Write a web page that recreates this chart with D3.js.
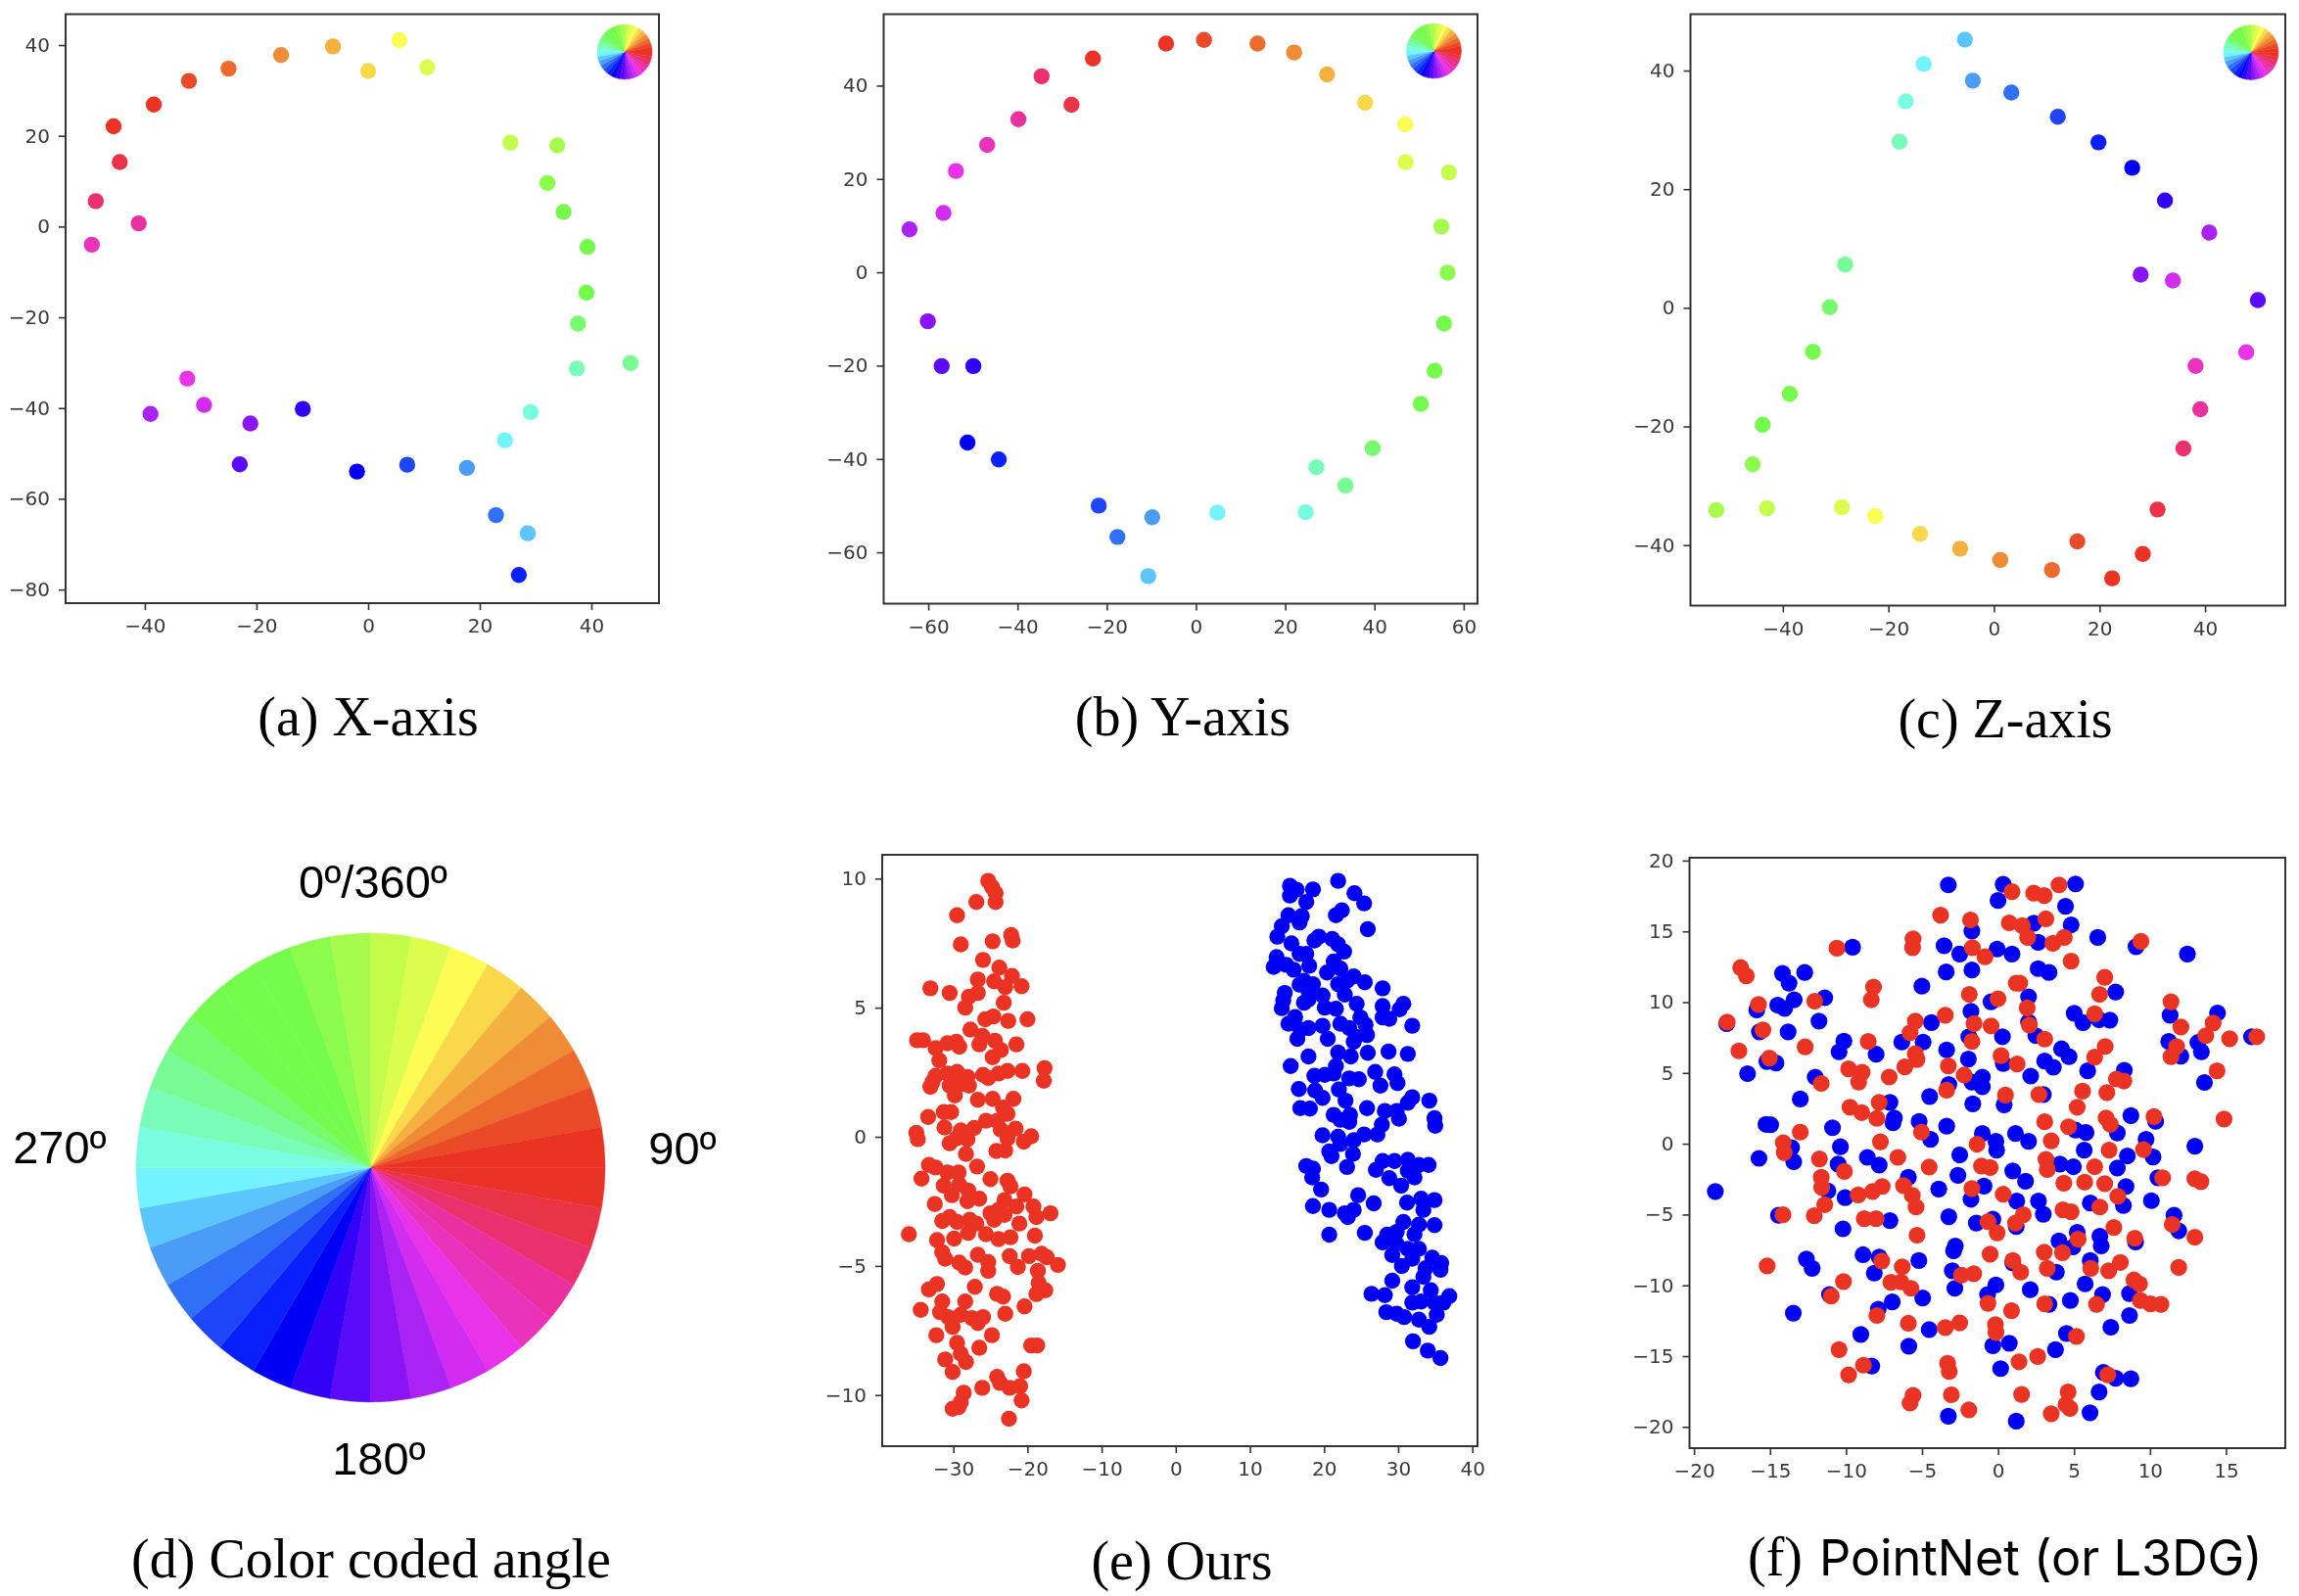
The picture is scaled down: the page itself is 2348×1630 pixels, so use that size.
<!DOCTYPE html>
<html>
<head>
<meta charset="utf-8">
<script src="https://cdn.jsdelivr.net/npm/d3@7"></script>
<style>
html,body{margin:0;padding:0;background:#fff;}
svg{display:block;}
.panel{filter:blur(0.7px);}
</style>
</head>
<body>
<div id="chart"></div>
<script>
// wheel colours, one per 10 degree slice, clockwise from the top
const wheelColors = ["#c4fc4c","#dcfd4e","#fdfc52","#f9d84a","#f4b13f","#f08c35","#eb6a2c","#ea4a28","#ea3323",
  "#ea3326","#ea3347","#ea306e","#ea30a0","#ea33bd","#ea33e8","#d12cf0","#ab22f5","#8b14f5",
  "#5a0cf8","#3300f8","#0000f5","#0a20fa","#1f45f8","#3070f6","#4a9cf7","#5ac6fb","#73f3fd",
  "#78fde0","#78fcb8","#78fb94","#77fb6e","#75fb4e","#75fb4c","#75fb4c","#8bfb4c","#a5fc4d"];

// point lists of a,b,c are in the same order as wheelColors
const xAxisPoints = [[25.5,18.5],[10.6,35.1],[5.6,41.1],[0,34.3],[-6.3,39.7],[-15.6,37.8],[-25,34.8],[-32.1,32.1],[-38.4,26.9],
  [-45.6,22.1],[-44.5,14.2],[-48.8,5.6],[-41.1,0.7],[-49.5,-4],[-32.4,-33.5],[-29.4,-39.3],[-39,-41.3],[-21.1,-43.4],
  [-23,-52.4],[-11.7,-40.2],[-2,-54],[27,-76.8],[7,-52.5],[22.9,-63.6],[17.7,-53.2],[28.6,-67.6],[24.5,-47.1],
  [29.1,-40.9],[37.4,-31.3],[47,-30.1],[37.6,-21.4],[39.1,-14.6],[39.3,-4.5],[35,3.2],[32.1,9.6],[33.9,17.9]];
const yAxisPoints = [[56.7,21.4],[47,23.6],[46.9,31.7],[37.9,36.3],[29.4,42.4],[22,47.1],[13.8,49],[1.8,49.8],[-6.7,49],
  [-23.1,45.8],[-27.9,35.9],[-34.6,42],[-39.8,32.8],[-46.8,27.3],[-53.8,21.7],[-56.6,12.7],[-64.2,9.2],[-60.1,-10.5],
  [-57,-20.1],[-49.9,-20.1],[-51.2,-36.5],[-44.2,-40.1],[-21.8,-50],[-17.6,-56.7],[-9.8,-52.5],[-10.7,-65.1],[4.8,-51.5],
  [24.6,-51.4],[27,-41.8],[33.5,-45.7],[39.6,-37.7],[50.4,-28.2],[53.5,-21.1],[55.6,-11],[56.4,-0.1],[55,9.8]];
const zAxisPoints = [[-43,-33.8],[-28.8,-33.6],[-22.5,-35.1],[-14,-38.1],[-6.4,-40.6],[1.2,-42.5],[11,-44.2],[15.8,-39.4],[22.4,-45.6],
  [28.2,-41.5],[31,-34],[35.9,-23.7],[39.1,-17.1],[38.2,-9.8],[47.8,-7.5],[33.9,4.6],[40.8,12.7],[27.8,5.6],
  [50,1.3],[32.4,18.1],[26.2,23.6],[19.8,27.9],[12.1,32.2],[3.3,36.3],[-4,38.3],[-5.5,45.2],[-13.3,41.1],
  [-16.7,34.8],[-17.9,28],[-28.2,7.3],[-31.1,0.1],[-34.3,-7.4],[-38.7,-14.5],[-43.8,-19.7],[-45.7,-26.4],[-52.6,-34.1]];

const oursRed = [[-25.3,9.91],[-24.8,9.68],[-24.3,9.43],[-24.3,9.09],[-26.9,9.09],[-29.5,8.58],[-29,7.45],[-24.7,7.57],[-22.2,7.81],[-22,7.6],
  [-26,6.85],[-23.8,6.55],[-22.1,6.23],[-26.7,6.09],[-24.5,6.02],[-23,5.79],[-20.8,5.83],[-33.1,5.75],[-30.5,5.57],[-27.9,5.42],
  [-26.7,5.57],[-23.2,5.19],[-28.4,5],[-25.7,4.55],[-24.6,4.66],[-22.6,4.49],[-20,4.55],[-27.7,4.15],[-26.1,3.91],[-24.4,3.72],
  [-21.5,3.58],[-34.9,3.74],[-34.1,3.74],[-32.4,3.43],[-30.8,3.62],[-29.6,3.68],[-29.2,3.49],[-26.5,3.58],[-23.6,3.36],[-24.7,3.08],
  [-31.9,2.96],[-17.7,2.66],[-17.8,2.17],[-22.7,2.55],[-20.7,2.55],[-32.4,2.36],[-32.8,2.13],[-33.1,1.94],[-30.8,2.45],[-29.5,2.51],
  [-28.1,2.32],[-26,2.4],[-25.3,2.28],[-30.5,1.98],[-29.2,2.02],[-27.9,1.98],[-29.8,1.6],[-23.9,2.45],[-26.7,1.43],[-24.7,1.47],
  [-21.9,1.47],[-33.4,0.77],[-31.3,0.96],[-30.3,0.96],[-23.3,1.13],[-22.7,0.89],[-25.6,0.62],[-24.1,0.62],[-35,0.15],[-34.8,-0.09],
  [-31.2,0.36],[-29,0.25],[-27.2,0.34],[-23.6,0.28],[-21.6,0.32],[-19.5,0.02],[-20.5,-0.19],[-30.5,-0.25],[-29.6,-0.06],[-28.1,-0.09],
  [-22.7,-0.06],[-24.2,-0.55],[-23,-0.53],[-28.3,-0.66],[-33.3,-1.09],[-32.4,-1.19],[-34.3,-1.62],[-26.8,-1.15],[-25,-1.64],[-30.8,-1.38],
  [-29.3,-1.38],[-22.7,-1.7],[-22.3,-1.92],[-31.3,-1.89],[-30.2,-2.26],[-29.2,-1.85],[-28,-2.08],[-26.5,-2.4],[-28.1,-2.49],[-20.4,-2.23],
  [-23.1,-2.45],[-32.5,-2.6],[-21.5,-2.7],[-19.2,-2.7],[-16.9,-2.96],[-23.9,-2.83],[-25,-2.96],[-24.5,-3.21],[-23.1,-3.02],[-18.8,-3.11],
  [-21.1,-3.36],[-31.5,-3.26],[-30.5,-3.11],[-29.5,-3.3],[-27.8,-3.21],[-26.9,-3.36],[-28,-3.72],[-25.6,-3.77],[-23.9,-3.96],[-22.3,-3.89],
  [-19,-3.83],[-36,-3.77],[-32.2,-4],[-29.9,-3.94],[-31.5,-4.47],[-31.1,-4.72],[-26.7,-4.57],[-22.4,-4.62],[-19.8,-4.62],[-18.1,-4.53],
  [-17.4,-4.66],[-15.9,-4.96],[-25.3,-4.85],[-25.3,-5.19],[-29.2,-4.87],[-28.4,-5.06],[-21.3,-5.04],[-18.6,-5.19],[-18.5,-5.66],[-17.6,-5.94],
  [-18.8,-6.09],[-27.1,-5.81],[-32.2,-5.7],[-33.3,-5.91],[-24.1,-6.08],[-23.3,-6.19],[-31.5,-6.38],[-28.4,-6.38],[-20.4,-6.57],[-34.4,-6.7],
  [-23,-6.85],[-31.8,-6.79],[-30.7,-6.98],[-29,-6.89],[-27.5,-7.02],[-26,-6.98],[-26.7,-7.21],[-30.1,-7.36],[-32.3,-7.68],[-24.8,-7.68],
  [-29.5,-7.98],[-26.5,-8.17],[-19.5,-8.08],[-18.7,-8.08],[-29,-8.4],[-28.3,-8.72],[-31.1,-8.62],[-30.1,-9.11],[-20.5,-9.08],[-24.1,-9.3],
  [-23.7,-9.53],[-22.4,-9.72],[-21,-9.66],[-26.1,-9.72],[-28.6,-9.91],[-20.8,-10.21],[-29,-10.28],[-29.3,-10.47],[-30.1,-10.53],[-22.5,-10.92]];
const oursBlue = [[21.9,9.91],[15.4,9.72],[16.3,9.57],[15.4,9.34],[24.1,9.43],[18.5,9.58],[25.4,9.04],[17.6,9.09],[22.4,8.77],[21.6,8.58],
  [15.2,8.58],[17,8.55],[16.7,8.3],[14.3,8.15],[25.9,8.04],[13.7,7.75],[15.6,7.49],[19.3,7.75],[18.7,7.6],[21.1,7.66],
  [21.9,7.45],[22.7,7.17],[13.6,6.96],[13.2,6.58],[14.9,6.66],[15.9,6.47],[16.7,7.08],[17.6,7.08],[18,6.62],[21.3,6.79],
  [22.2,6.51],[20.4,6.36],[24,6.21],[25.5,5.98],[23.1,6.04],[21.9,5.91],[18.5,5.91],[17.3,6.04],[16.7,5.89],[17.9,5.66],
  [14.7,5.57],[14.5,5.28],[14.3,4.98],[17.3,5.19],[19.8,5.47],[17.9,5.32],[22.8,5.51],[27.9,5.75],[24.4,5.15],[20.1,5],
  [21.6,4.96],[27.9,5.06],[30.7,5.15],[30.2,4.94],[16.1,4.64],[15.2,4.38],[16.8,4.15],[17.9,4.21],[19.8,4.3],[22.2,4.38],
  [24.9,4.62],[25.6,4.34],[23.4,4.21],[27.9,4.62],[28.8,4.57],[31.9,4.3],[25.8,3.94],[24.3,3.87],[24,3.68],[16.4,3.79],
  [20.5,3.79],[21.9,3.26],[17.9,3.11],[23.6,3.11],[25.9,3.25],[28.7,3.3],[31.3,3.21],[15.5,2.74],[21.6,2.74],[21.3,2.45],
  [20.1,2.4],[18.7,2.36],[26.9,2.51],[29.5,2.42],[23.4,2.26],[24.7,2.23],[29.9,2.08],[27.6,1.98],[16.6,1.85],[18.8,1.79],
  [19.8,1.51],[22,1.83],[22.9,1.4],[31.9,1.53],[31.3,1.32],[34.2,1.4],[16.8,1.11],[18.1,1.09],[25.8,1.11],[21.3,0.85],
  [22.2,0.66],[23.5,0.85],[23.4,0.58],[28.2,1],[29.8,1],[30.1,0.7],[34.9,0.72],[35,0.43],[27.8,0.47],[19.8,0.06],
  [21.9,0],[25.4,0.09],[27.2,0.09],[24,-0.13],[22.2,-0.28],[20.7,-0.57],[21,-0.75],[23.9,-0.66],[17.6,-1.13],[18.5,-1.23],
  [23.1,-1.17],[18.4,-1.57],[27.9,-0.94],[29.5,-0.94],[31.3,-0.89],[27,-1.28],[31.3,-1.32],[32.8,-1.09],[34.1,-1.09],[28.8,-1.6],
  [32.2,-1.57],[30.4,-1.89],[19.6,-2.04],[18.5,-2.68],[20.7,-2.83],[24.6,-2.26],[26.7,-2.58],[31.2,-2.55],[33.1,-2.4],[34.9,-2.45],
  [33.4,-2.83],[24,-2.83],[22.8,-2.96],[23.2,-3.11],[30.7,-3.3],[32.8,-3.4],[34.9,-3.42],[25.5,-3.72],[20.7,-3.79],[29.8,-3.68],
  [28.5,-3.79],[32.2,-3.77],[27.9,-4.09],[29.8,-4.15],[31.3,-4.34],[32.8,-4.34],[29.2,-4.58],[31.9,-4.72],[34.6,-4.68],[35.8,-4.89],
  [30.5,-5],[35.7,-5.15],[33.7,-5.09],[29.2,-5.57],[33.4,-5.42],[26.4,-6.08],[28.2,-6.13],[31.9,-5.83],[34.4,-5.94],[36.9,-6.17],
  [31.9,-6.42],[33.1,-6.38],[34.9,-6.42],[36.1,-6.42],[28.4,-6.79],[29.8,-6.85],[30.8,-6.98],[35.2,-6.89],[32.8,-7.08],[34.2,-7.36],
  [32,-7.92],[34,-8.28],[35.7,-8.57]];

const pointnetBlue = [[-3.27,18.28],[0.34,18.32],[5.1,18.35],[0,17.18],[4.44,16.77],[2.35,15.57],[4.81,15.46],[-1.72,15.02],[6.56,14.57],[-3.55,13.99],
  [-9.57,13.88],[2.64,14.23],[-0.06,13.75],[-2.52,13.4],[0.92,13.4],[12.46,13.4],[9.08,13.92],[-3.41,12.13],[-1.72,12.27],[2.64,12.37],
  [3.35,12.1],[-14.18,12.03],[-12.72,12.1],[-13.75,11.34],[-5.01,11.13],[7.74,10.72],[2.01,10.38],[-11.4,10.31],[-13.41,10.17],[-14.5,9.79],
  [-14.04,9.55],[-15.87,9.45],[-0.46,10.03],[11.32,9.07],[-1.78,9.35],[5.01,9.21],[14.44,9.24],[-11.78,8.66],[-4.38,8.56],[5.59,8.56],
  [6.65,8.76],[7.36,8.73],[2.01,8.59],[-17.85,8.49],[-13.81,7.9],[-15.7,7.9],[-1.92,7.56],[0.29,7.56],[2.49,7.63],[-10.14,7.25],
  [-6.33,7.18],[-4.93,7.18],[11.23,7.22],[13.15,7.15],[16.68,7.56],[-10.46,6.49],[-8.02,6.32],[-3.38,6.63],[4.18,6.7],[4.67,6.15],
  [13.38,6.49],[12.03,6.19],[-1.95,5.98],[3.07,5.84],[0.34,5.67],[3.64,5.4],[-15.21,5.81],[-14.61,5.7],[-16.48,4.95],[5.9,5.15],
  [-12.03,4.71],[2.15,4.78],[8.31,5.19],[-1.03,4.71],[-1.72,4.36],[-1.03,4.02],[13.58,4.33],[-3.24,4.19],[2.98,3.47],[-13.01,3.16],
  [-4.5,3.33],[-7.11,2.92],[-1.66,2.82],[0.4,2.75],[-6.82,1.82],[-6.91,1.48],[-5.19,1.58],[8.74,1.99],[10.37,1.58],[-15.27,1.37],
  [-14.96,1.34],[-10.89,1.13],[-3.38,1.24],[-1.03,0.72],[1.15,0.72],[5.1,0.96],[5.79,0.79],[7.85,0.76],[-4.44,0.31],[-0.14,0.17],
  [2.01,0.17],[9.74,0.31],[-10.37,-0.21],[-13.58,-0.27],[12.95,-0.17],[-0.09,-0.45],[5.67,-0.45],[8.51,-0.86],[-15.73,-1.03],[-8.6,-0.96],
  [-2.52,-0.79],[10.2,-0.93],[-13.44,-1.27],[-10.52,-1.44],[-7.82,-1.51],[4.07,-1.44],[4.96,-1.62],[7.85,-1.72],[0.97,-1.92],[-2.64,-2.23],
  [-5.9,-2.37],[10.52,-2.41],[1.81,-2.65],[8.42,-3.02],[-3.9,-3.2],[-0.92,-2.99],[-11.2,-3.33],[-10.06,-3.81],[-1.78,-3.92],[1.23,-4.05],
  [2.66,-4.05],[6.07,-4.19],[10.09,-4.02],[8.25,-4.36],[-14.44,-5.05],[-3.24,-5.15],[2.98,-4.98],[-7.11,-5.43],[-0.34,-5.33],[11.58,-5.05],
  [-1.43,-5.6],[1.2,-5.84],[-10.2,-6.01],[5.21,-6.25],[11.89,-6.15],[6.7,-6.53],[4.01,-6.87],[-2.81,-7.22],[-2.92,-7.56],[6.79,-7.22],
  [4.93,-7.29],[9.05,-6.94],[-8.88,-7.84],[-7.82,-8.01],[6.07,-8.25],[-5.21,-8.25],[-12.61,-8.14],[-12.23,-8.8],[-8.14,-9.14],[-3.01,-8.97],
  [0.97,-8.42],[3.84,-9.07],[-0.14,-9.97],[5.73,-9.9],[-11.09,-10.65],[-2.84,-10.21],[2.12,-10.31],[-0.69,-10.65],[6.88,-10.65],[8.65,-10.58],
  [-4.96,-10.89],[-6.96,-11.17],[4.76,-11.07],[3.35,-11.34],[-7.88,-11.68],[8.65,-12.13],[7.42,-12.96],[-4.53,-13.13],[-9.03,-13.47],[4.5,-13.4],
  [-5.87,-14.3],[-0.34,-14.26],[0.74,-14.09],[3.78,-14.54],[-8.31,-15.7],[0.17,-15.88],[6.93,-16.15],[7.74,-16.56],[8.74,-16.6],[6.65,-17.53],
  [-3.27,-19.24],[6.05,-19],[1.2,-19.59],[-18.6,-3.37],[-13.47,-11.96]];
const pointnetRed = [[4.01,18.28],[0.92,17.8],[2.35,17.7],[3.04,17.53],[-3.78,16.15],[3.15,15.88],[-1.81,15.81],[0.74,15.6],[1.6,15.4],[4.36,14.57],
  [1.95,14.57],[-5.59,14.47],[9.4,14.3],[3.61,14.16],[-10.6,13.81],[-5.62,13.85],[-1.69,13.85],[-0.86,13.2],[4.81,12.89],[-16.93,12.44],
  [-16.56,11.86],[7.02,11.75],[1.2,11.34],[1.43,11.34],[-8.19,11.07],[6.68,10.55],[-1.89,10.55],[-8.34,10.17],[0,10.24],[-12.06,10.07],
  [11.38,10.03],[1.92,9.59],[-15.76,9.83],[-3.47,9.07],[6.36,9.18],[-5.44,8.66],[-17.82,8.59],[-1.58,8.49],[-0.46,8.32],[2.06,8.38],
  [12.03,8.25],[14.15,8.52],[-15.47,8.04],[-5.79,7.84],[13.67,7.63],[17.02,7.56],[15.24,7.42],[3.07,7.39],[-8.54,7.22],[-1.72,7.22],
  [-12.69,6.84],[7.05,6.87],[11.75,6.87],[-17.05,6.56],[-5.44,6.36],[-5.33,5.95],[0.2,6.22],[-15.04,6.05],[6.36,6.12],[11.38,6.15],
  [-6.13,5.43],[1.26,5.64],[-3.27,5.5],[14.41,5.15],[-9.83,5.29],[-8.94,5.05],[-2.23,4.85],[-7.16,4.71],[7.79,4.57],[8.28,4.43],
  [-9.17,4.36],[-11.63,4.26],[-3.38,3.78],[5.56,3.71],[7.16,3.61],[0.49,3.44],[2.69,3.47],[-7.82,2.92],[-9.74,2.58],[-8.97,2.2],
  [5.21,2.58],[-7.97,1.79],[7.11,1.82],[10.26,1.92],[14.87,1.75],[7.39,1.37],[3.07,1.55],[4.64,1.2],[-13.01,0.82],[-5.04,0.82],
  [-14.13,0.07],[-7.74,0.14],[3.5,0.21],[-14.07,-0.62],[-6.59,-0.96],[-11.75,-1.07],[7.31,-0.45],[9.57,-0.41],[-1.38,-0.03],[3.15,-1.1],
  [3.24,-1.82],[-1.09,-1.58],[-0.52,-1.68],[-4.53,-1.65],[6.36,-1.62],[-10.11,-1.96],[-11.63,-2.37],[10.83,-2.41],[4.33,-2.78],[5.7,-2.71],
  [7.02,-2.82],[-6.22,-2.96],[12.95,-2.47],[13.35,-2.68],[-11.6,-3.09],[-7.62,-3.02],[-8.25,-3.37],[-1.72,-3.16],[-9.2,-3.61],[-5.64,-3.64],
  [0.34,-3.57],[7.88,-3.71],[-5.39,-4.47],[-11.4,-4.3],[6.7,-4.47],[4.27,-4.67],[4.81,-4.81],[-14.15,-5.02],[-12.09,-5.09],[-8.8,-5.29],
  [-8.02,-5.29],[1.66,-5.02],[1.15,-5.6],[-0.66,-5.5],[11.46,-5.7],[-0.06,-6.29],[7.62,-5.91],[-5.33,-6.46],[9,-6.67],[12.95,-6.6],
  [5.27,-6.74],[3.04,-7.66],[4.24,-7.7],[-0.52,-7.8],[-7.65,-8.28],[0.97,-8.25],[8.05,-8.38],[-15.19,-8.63],[-6.3,-8.69],[3.24,-8.8],
  [6.1,-8.8],[7.28,-8.97],[1.49,-9.07],[-1.6,-9.18],[-2.41,-9.28],[11.89,-8.73],[-7.05,-9.79],[-6.39,-9.76],[-5.73,-10.21],[-10.17,-9.73],
  [8.94,-9.62],[9.31,-9.9],[-10.97,-10.76],[-0.66,-11.27],[3.07,-11.31],[9.37,-11.07],[10.03,-11.31],[10.72,-11.34],[6.48,-11.34],[0.89,-11.79],
  [-7.97,-12.13],[-5.9,-12.68],[-2.52,-12.65],[-3.47,-12.99],[-0.17,-12.78],[-0.14,-13.33],[5.16,-13.61],[-10.46,-14.54],[2.61,-15.02],[1.38,-15.4],
  [-3.32,-15.5],[-8.85,-15.64],[-3.21,-16.08],[7.22,-16.32],[-9.83,-16.32],[-3.07,-17.73],[1.55,-17.7],[-5.59,-17.77],[4.61,-17.53],[-5.79,-18.32],
  [4.47,-18.42],[4.73,-18.69],[-1.92,-18.8],[3.5,-19.07]];

const ticksA = {x:[-40,-20,0,20,40], y:[-80,-60,-40,-20,0,20,40]};
const ticksB = {x:[-60,-40,-20,0,20,40,60], y:[-60,-40,-20,0,20,40]};
const ticksC = {x:[-40,-20,0,20,40], y:[-40,-20,0,20,40]};
const ticksE = {x:[-30,-20,-10,0,10,20,30,40], y:[-10,-5,0,5,10]};
const ticksF = {x:[-20,-15,-10,-5,0,5,10,15], y:[-20,-15,-10,-5,0,5,10,15,20]};

const RED = "#ea3323", BLUE = "#0000f5";
const width = 2348, height = 1630;

var svg = d3.select("#chart").append("svg")
  .attr("width", width)
  .attr("height", height)
  .attr("viewBox", `0 0 ${width} ${height}`);

function drawWheel(parent, cx, cy, r) {
  var pie = d3.pie().value(1).sort(null);
  var arc = d3.arc().innerRadius(0).outerRadius(r);
  var g = parent.append("g").attr("transform", `translate(${cx},${cy})`);
  g.selectAll("path")
    .data(pie(wheelColors))
    .enter()
    .append("path")
    .attr("d", arc)
    .attr("fill", d => d.data)
    .attr("stroke", d => d.data)
    .attr("stroke-width", 0.4);
}

// box is the frame in page pixels, xDom / yDom what the frame edges read
function drawPanel(box, xDom, yDom, ticks, layers, r) {
  var x = d3.scaleLinear().domain(xDom).range([box.left, box.right]);
  var y = d3.scaleLinear().domain(yDom).range([box.bottom, box.top]);
  var g = svg.append("g").attr("class", "panel");

  layers.forEach(function(layer) {
    g.append("g").selectAll("circle")
      .data(layer.points)
      .enter()
      .append("circle")
      .attr("cx", d => x(d[0]))
      .attr("cy", d => y(d[1]))
      .attr("r", r)
      .attr("fill", (d, i) => layer.color ? layer.color : wheelColors[i]);
  });

  g.append("g")
    .attr("transform", `translate(0,${box.bottom})`)
    .call(d3.axisBottom(x).tickValues(ticks.x).tickSize(7).tickPadding(9).tickSizeOuter(0))
    .call(styleAxis);
  g.append("g")
    .attr("transform", `translate(${box.left},0)`)
    .call(d3.axisLeft(y).tickValues(ticks.y).tickSize(7).tickPadding(9).tickSizeOuter(0))
    .call(styleAxis);

  g.append("rect")
    .attr("x", box.left)
    .attr("y", box.top)
    .attr("width", box.right - box.left)
    .attr("height", box.bottom - box.top)
    .attr("fill", "none")
    .attr("stroke", "#333")
    .attr("stroke-width", 2);
  return g;
}

function styleAxis(sel) {
  sel.select(".domain").remove();
  sel.selectAll(".tick line").attr("stroke", "#333").attr("stroke-width", 1.6);
  sel.selectAll(".tick text")
    .attr("fill", "#3a3a3a")
    .style("font-family", "'DejaVu Sans'")
    .style("font-size", "20px");
}

var panelA = drawPanel({left:67, right:673, top:14.5, bottom:616}, [-54.2,52.1], [-83,46.8], ticksA, [{points:xAxisPoints}], 8.2);
var panelB = drawPanel({left:902.5, right:1509, top:14.5, bottom:616.5}, [-70,63.1], [-71,55.3], ticksB, [{points:yAxisPoints}], 8.2);
var panelC = drawPanel({left:1726.5, right:2334, top:14.5, bottom:618.5}, [-57.5,55.2], [-50.2,49.5], ticksC, [{points:zAxisPoints}], 8.2);
drawPanel({left:901, right:1509, top:873, bottom:1477}, [-39.6,40.7], [-11.98,10.92], ticksE,
  [{points:oursRed, color:RED}, {points:oursBlue, color:BLUE}], 8.2);
drawPanel({left:1725.5, right:2334, top:876, bottom:1479}, [-20.3,18.9], [-21.5,20.2], ticksF,
  [{points:pointnetBlue, color:BLUE}, {points:pointnetRed, color:RED}], 8.6);

drawWheel(panelA, 638, 53, 28);
drawWheel(panelB, 1464.5, 52, 28);
drawWheel(panelC, 2299, 53.5, 28);
drawWheel(svg, 378.5, 1192.5, 239.5);

// captions
var captions = [
  {t:"(a) X-axis", x:376, y:751},
  {t:"(b) Y-axis", x:1208, y:751},
  {t:"(c) Z-axis", x:2048, y:753},
  {t:"(d) Color coded angle", x:379, y:1611},
  {t:"(e) Ours", x:1207, y:1613}
];
svg.selectAll("text.caption")
  .data(captions)
  .enter()
  .append("text")
  .attr("class", "caption")
  .attr("x", d => d.x)
  .attr("y", d => d.y)
  .attr("text-anchor", "middle")
  .style("font-family", "'Liberation Serif'")
  .style("font-size", "56px")
  .text(d => d.t);

var fCaption = svg.append("text").attr("y", 1609);
fCaption.append("tspan")
  .attr("x", 1785)
  .style("font-family", "'Liberation Serif'")
  .style("font-size", "56px")
  .text("(f)");
fCaption.append("tspan")
  .attr("x", 1858)
  .style("font-family", "'Inter'")
  .style("font-size", "50.5px")
  .text("PointNet (or L3DG)");

// wheel labels
var angleLabels = [
  {t:"0º/360º", x:381, y:917},
  {t:"90º", x:697, y:1189},
  {t:"180º", x:387, y:1506},
  {t:"270º", x:61, y:1188}
];
svg.selectAll("text.angle")
  .data(angleLabels)
  .enter()
  .append("text")
  .attr("class", "angle")
  .attr("x", d => d.x)
  .attr("y", d => d.y)
  .attr("text-anchor", "middle")
  .style("font-family", "'Liberation Sans'")
  .style("font-size", "47px")
  .text(d => d.t);
</script>
</body>
</html>
